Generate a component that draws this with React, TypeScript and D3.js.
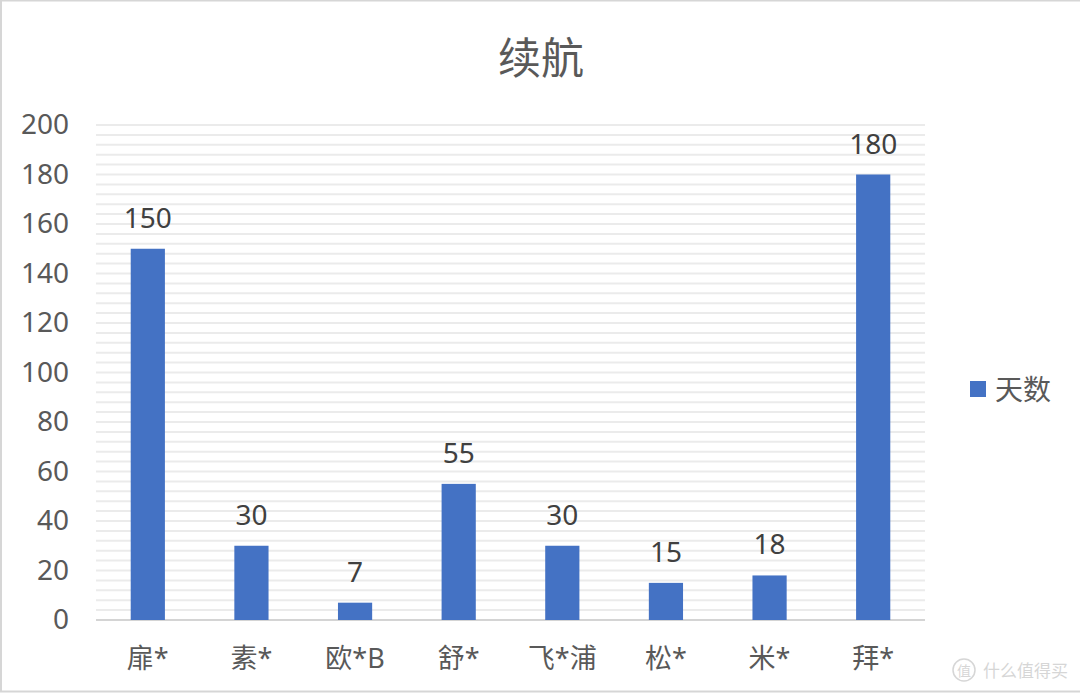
import React from "react";
import * as d3 from "d3";

const title = "续航";
const categories = ["扉*", "素*", "欧*B", "舒*", "飞*浦", "松*", "米*", "拜*"];
const values = [150, 30, 7, 55, 30, 15, 18, 180];
const yTicks = [0, 20, 40, 60, 80, 100, 120, 140, 160, 180, 200];
const seriesName = "天数";

const W = 1080;
const H = 694;
const FONT = "'Noto Sans', 'Noto Sans CJK SC', sans-serif";

export default function App() {
  const x = d3.scaleBand<string>().domain(categories).range([96, 925]).paddingInner(0.67).paddingOuter(0.335);
  const y = d3.scaleLinear().domain([0, 200]).range([620, 125]);
  const minor = d3.range(0, 201, 4);

  return (
    <svg width={W} height={H} style={{ position: "absolute", left: 0, top: 0, background: "#fff" }} fontFamily={FONT}>
      <rect x={1} y={0.5} width={W + 2} height={691} fill="#fff" stroke="#d6d6d6" strokeWidth={2} />
      <text x={541} y={57} textAnchor="middle" dominantBaseline="central" fontSize={43} fill="#595959">{title}</text>
      {minor.map((v) => (
        <line key={v} x1={96} x2={925} y1={y(v)} y2={y(v)} stroke={v === 0 ? "#d4d4d4" : "#ebebeb"} strokeWidth={2} />
      ))}
      {yTicks.map((t) => (
        <text key={t} x={69} y={y(t) - 2} textAnchor="end" dominantBaseline="central" fontSize={28} fill="#595959">{t}</text>
      ))}
      {categories.map((c, i) => (
        <g key={c}>
          <rect x={x(c)!} y={y(values[i])} width={x.bandwidth()} height={y(0) - y(values[i])} fill="#4472C4" />
          <text x={x(c)! + x.bandwidth() / 2} y={y(values[i]) - 32} textAnchor="middle" dominantBaseline="central" fontSize={28} fill="#404040">{values[i]}</text>
          <text x={x(c)! + x.bandwidth() / 2} y={657} textAnchor="middle" dominantBaseline="central" fontSize={27} fill="#595959">{c}</text>
        </g>
      ))}
      <rect x={970} y={381} width={16} height={16} fill="#4472C4" />
      <text x={995} y={389} dominantBaseline="central" fontSize={28} fill="#595959">{seriesName}</text>
      <g opacity={0.4} fill="#9a9a9a">
        <circle cx={964} cy={670} r={11} fill="none" stroke="#9a9a9a" strokeWidth={1.5} />
        <text x={964} y={670} textAnchor="middle" dominantBaseline="central" fontSize={14}>值</text>
        <text x={983} y={670} dominantBaseline="central" fontSize={17}>什么值得买</text>
      </g>
    </svg>
  );
}
